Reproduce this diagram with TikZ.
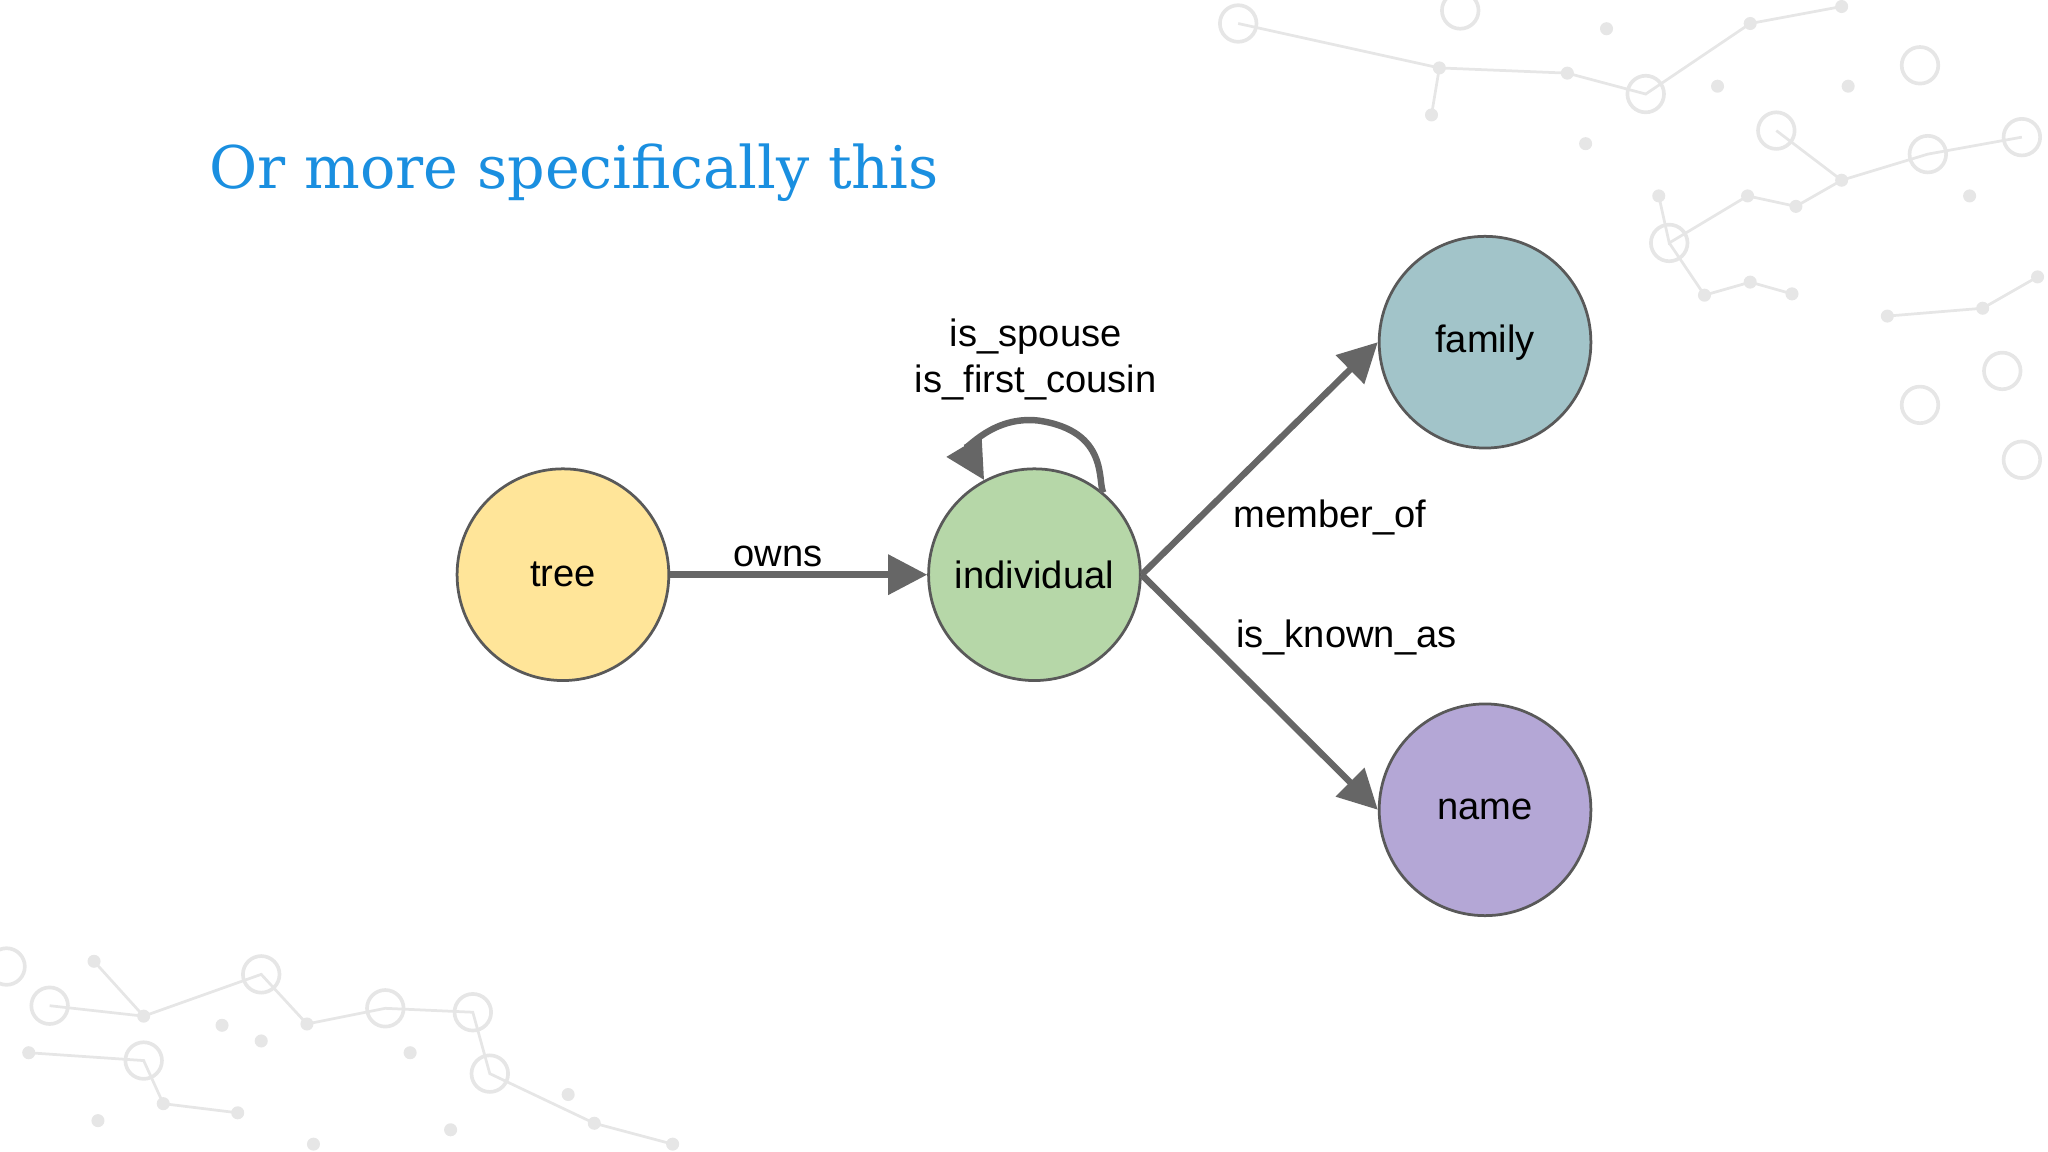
\documentclass[tikz,border=0pt]{standalone}
\usepackage{fontspec}
\setmainfont{Liberation Sans}
\newfontfamily\titlefont{DejaVu Serif}
\usetikzlibrary{arrows.meta}
\definecolor{ctree}{HTML}{FFE599}
\definecolor{cind}{HTML}{B6D7A8}
\definecolor{cfam}{HTML}{A2C4C9}
\definecolor{cname}{HTML}{B4A7D6}
\definecolor{edge}{HTML}{666666}
\definecolor{ttl}{HTML}{1A8FE0}
\definecolor{deco}{HTML}{E6E6E6}
\tikzset{
  ent/.style={circle,draw=black!65,line width=0.6pt,minimum size=1.62cm,inner sep=0pt,font=\fontsize{8.3}{10}\selectfont},
  rel/.style={draw=edge,line width=1.4pt,-{Triangle[length=0.3cm,width=0.3cm]}},
  lbl/.style={font=\fontsize{8.3}{10}\selectfont,align=center},
  dot/.style={circle,fill=deco,inner sep=0pt,minimum size=0.1cm},
  ring/.style={circle,draw=deco,line width=0.8pt,inner sep=0pt,minimum size=0.28cm},
}
\begin{document}
\begin{tikzpicture}[x=0.01cm,y=-0.01cm]
\useasboundingbox (0,0) rectangle (1568,882);
% decoration
\begin{scope}[draw=deco,line width=0.6pt]
\draw (948,18)--(1102,52)--(1200,56)--(1260,72)--(1340,18)--(1410,5);
\draw (1102,52)--(1096,88);(1260,72)--(1270,150);
\draw (1270,150)--(1278,186)--(1338,150)--(1375,158)--(1410,138)--(1476,118)--(1548,105);
\draw (1278,186)--(1305,226)--(1340,216)--(1372,225);
\draw (1445,242)--(1518,236)--(1560,212);(1518,236)--(1533,284)--(1470,310);
\draw (1360,100)--(1410,138);(1476,118)--(1470,50)--(1415,66);(1533,284)--(1548,352);
\draw (38,770)--(110,778)--(200,746)--(235,784)--(295,772)--(362,775)--(375,822)--(455,860)--(515,876);
\draw (110,778)--(72,736);(110,778)--(110,812)--(75,858);(110,812)--(200,797)--(235,784);
\draw (22,806)--(110,812)--(125,845)--(182,852);(295,772)--(314,806)--(345,865);(240,876)--(300,878);
\end{scope}
\foreach \p in {(1102,52),(1200,56),(1096,88),(1340,18),(1410,5),(1230,22),(1315,66),(1415,66),(1338,150),(1375,158),(1410,138),(1305,226),(1340,216),(1372,225),(1445,242),(1518,236),(1560,212),(1508,150),(1214,110),(1270,150),(72,736),(110,778),(22,806),(75,858),(125,845),(182,852),(200,797),(235,784),(314,806),(345,865),(455,860),(240,876),(515,876),(170,785),(435,838)}
  \node[dot] at \p {};
\foreach \p in {(948,18),(1118,8),(1260,72),(1278,186),(1360,100),(1476,118),(1548,105),(1470,310),(1533,284),(1548,352),(1470,50),(38,770),(110,812),(200,746),(295,772),(362,775),(375,822),(5,740)}
  \node[ring] at \p {};
% title
\node[anchor=west,text=ttl,font=\titlefont\fontsize{12.8}{14}\selectfont] (title) at (148,132) {Or more specifically this};
% nodes
\node[ent,fill=ctree] (tree) at (431,440) {tree};
\node[ent,fill=cind] (ind) at (792,440) {individual};
\node[ent,fill=cfam] (fam) at (1137,262) {family};
\node[ent,fill=cname] (nm) at (1137,620) {name};
% edges
\draw[rel] (tree) -- node[lbl,above,pos=0.42,inner sep=1pt] {owns} (ind);
\draw[rel] (ind.east) -- (fam.west);
\draw[rel] (ind.east) -- (nm.west);
\node[lbl,anchor=west] (mo) at (932,396) {member\_of};
\node[lbl,anchor=west] (ika) at (934,488) {is\_known\_as};
\draw[rel] (ind.50) .. controls (840,370) and (850,330) .. (795,322) .. controls (760,318) and (740,345) .. (ind.118);
\node[lbl] (loop) at (793,275) {is\_spouse\\is\_first\_cousin};
\end{tikzpicture}
\end{document}
